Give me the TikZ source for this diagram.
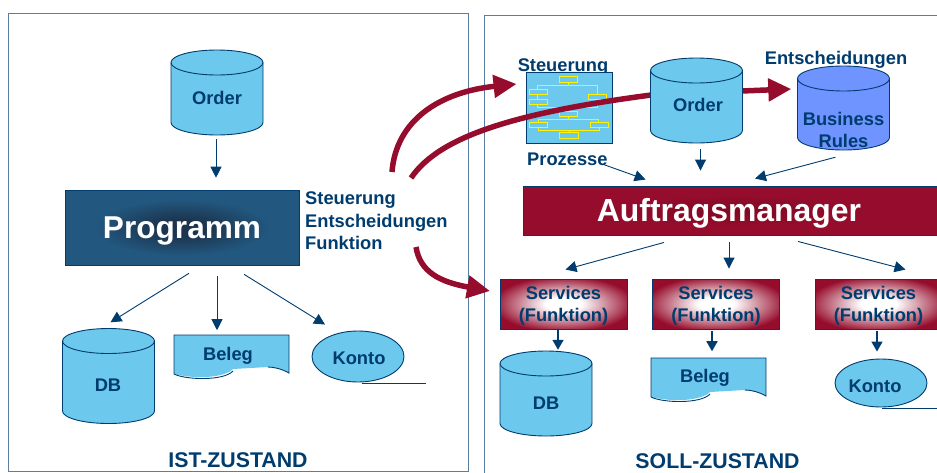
\documentclass[tikz,border=0pt]{standalone}
\usepackage{fontspec}
\setmainfont{Liberation Sans}
\usepackage{xcolor}
\usetikzlibrary{
    positioning,
    arrows.meta,
    calc,
    shapes.geometric
}
\definecolor{printBlue}{RGB}{0, 60, 110}
\definecolor{fillCyan}{RGB}{108, 200, 236}
\definecolor{fillRules}{RGB}{112, 148, 255}
\definecolor{printRed}{RGB}{150, 12, 44}
\definecolor{frameBlue}{RGB}{90, 125, 160}
\definecolor{boxBlue}{RGB}{34, 88, 128}
\definecolor{boxDark}{RGB}{28, 52, 78}
\definecolor{redDark}{RGB}{125, 10, 36}
\pgfdeclareradialshading{progGlow}{\pgfpointorigin}{color(0bp)=(boxDark); color(5bp)=(boxDark); color(19bp)=(boxBlue); color(50bp)=(boxBlue)}
\pgfdeclareradialshading{auftragGlow}{\pgfpointorigin}{color(0bp)=(redDark); color(16bp)=(printRed); color(50bp)=(printRed)}
\pgfdeclareradialshading{serviceGlow}{\pgfpointorigin}{color(0bp)=(white); color(7bp)=(white); color(28bp)=(printRed); color(50bp)=(printRed)}
\tikzset{
    lbl/.style={font=\bfseries\fontsize{18.3}{22.5}\selectfont, text=printBlue, inner sep=0pt, align=center},
    zustand/.style={font=\bfseries\fontsize{21.3}{24}\selectfont, text=printBlue, inner sep=0pt},
    service/.style={draw=printBlue, line width=0.9pt, shading=serviceGlow, minimum width=127pt, minimum height=50pt, inner sep=0pt, label={[lbl, yshift=-2pt]center:Services\\(Funktion)}},
    konto/.style={ellipse, draw=printBlue, line width=0.9pt, fill=fillCyan, minimum width=92pt, inner sep=0pt},
    thinarrow/.style={-{Triangle[length=11pt,width=11pt]}, draw=printBlue, line width=0.9pt},
    midarrow/.style={-{Triangle[length=10pt,width=11pt]}, draw=printBlue, line width=1.6pt},
    redarrow/.style={-{Triangle[length=23pt,width=22pt]}, draw=printRed, line width=5.5pt}
}
% Tonne: Name, x, y, Hoehe, Fuellung
\newcommand{\tonne}[5]{
    \node[minimum width=92pt, minimum height=#4pt, inner sep=0pt] (#1) at (#2,#3) {};
    \begin{scope}[shift={(#2,#3)}]
        \pgfmathsetmacro{\halfh}{#4/2-12.5}
        \filldraw[fill=#5, draw=printBlue, line width=0.9pt] (-46,-\halfh) -- (-46,\halfh) arc (180:0:46 and 12.5) -- (46,-\halfh) arc (360:180:46 and 12.5) -- cycle;
        \draw[printBlue, line width=0.9pt] (-46,-\halfh) arc (180:0:46 and 12.5);
    \end{scope}
}
% Beleg-Form: Welle unten mit weissem Ausschnitt
\newcommand{\belegform}[2]{
    \begin{scope}[shift={(#1,#2)}]
        \fill[fillCyan] (0,0)--(115,0)--(115,38) .. controls (108,34) and (100,32) .. (94,32)--(59,34) .. controls (54,40) and (30,46) .. (0,39)--cycle;
        \draw[printBlue, line width=0.9pt] (94,32) .. controls (100,32) and (108,34) .. (115,38)--(115,0)--(0,0)--(0,39) .. controls (12,45) and (50,46) .. (59,36);
    \end{scope}
}
\begin{document}
\begin{tikzpicture}[x=1pt, y=-1pt]
    \useasboundingbox (0,0) rectangle (937,472);
    % Rahmen
    \draw[frameBlue, line width=0.9pt] (8.5,13) rectangle (468,471);
    \draw[frameBlue, line width=0.9pt] (484,15) rectangle (945,480);

    % IST-ZUSTAND
    \tonne{orderL}{217}{92.5}{85}{fillCyan}
    \node[lbl] (orderLtext) at (217,98) {Order};
    \node[draw=printBlue, line width=0.6pt, shading=progGlow, minimum width=234pt, minimum height=75pt, text=white, text height=22.6pt, text depth=0pt, inner sep=0pt, font=\bfseries\fontsize{31.6}{36}\selectfont] (programm) at (182,227.5) {Programm};
    \node[lbl, align=left, anchor=north west] (aspekte) at (305,192) {Steuerung\\Entscheidungen\\Funktion};
    \tonne{dbL}{108.5}{376}{95}{fillCyan}
    \node[lbl] (dbLtext) at (108,385) {DB};
    \belegform{174}{335}
    \node[lbl] (belegL) at (228,356) {Beleg};
    \node[konto, minimum height=51pt] (kontoL) at (358,356.5) {};
    \node[lbl] (kontoLtext) at (359,358) {Konto};
    \coordinate (kontoLa) at (362,383);
    \coordinate (kontoLb) at (426,383);
    \draw[printBlue, line width=0.9pt] (kontoLa)--(kontoLb);
    \node[zustand] (ist) at (238,460) {IST-ZUSTAND};

    \draw[thinarrow] ([shift={(-1,4)}]orderL.south) -- ([xshift=-1pt,yshift=12pt]orderL.south |- programm.north);
    \draw[thinarrow] ([shift={(7,8)}]programm.south) -- ([shift={(2,-6)}]dbL.north);
    \draw[thinarrow] ([shift={(35,11)}]programm.south) -- ([shift={(-11,-17)}]belegL.north);
    \draw[thinarrow] ([shift={(62,9)}]programm.south) -- ([shift={(-33,-6)}]kontoL.north);

    % SOLL-ZUSTAND
    \node[lbl] (steuerung) at (563,67) {Steuerung};
    \node[draw=printBlue, line width=0.9pt, fill=fillCyan, minimum width=86pt, minimum height=71pt, inner sep=0pt] (ablauf) at (569,107.5) {};
    % kleines Ablaufschema
    \begin{scope}[shift={(480,30)}, x=0.3333pt, y=-0.3333pt, draw=yellow, line width=0.8pt]
        \foreach \xa/\ya/\xb/\yb in {237/140/292/157, 149/177/203/193, 149/207/203/224, 325/193/380/209, 237/244/292/260, 149/277/203/293, 332/277/386/293, 239/308/294/325}
            \draw (\xa,\ya) rectangle (\xb,\yb);
        \draw (265,157)--(265,167);
        \draw (173,177)--(173,167)--(352,167)--(352,193);
        \draw (173,193)--(173,207);
        \draw (173,224)--(173,233)--(352,233)--(352,209);
        \draw (265,233)--(265,244);
        \draw (265,260)--(265,269);
        \draw (175,277)--(175,269)--(355,269)--(355,277);
        \draw (175,293)--(175,300)--(358,300)--(358,293);
        \draw (268,300)--(268,308);
    \end{scope}
    \tonne{rules}{843.5}{108}{84}{fillRules}
    \node[lbl] (rulestext) at (843.5,130) {Business\\Rules};
    \node[lbl] (entscheidungen) at (836,60) {Entscheidungen};
    \node[lbl, anchor=west] (prozesse) at (527,159) {Prozesse};

    % roter Pfeil hinter der Order-Tonne
    \coordinate (startOrder) at (411,178);
    \coordinate (orderIn) at (655,94.5);
    \draw[redarrow] (startOrder) .. controls (440,135) and (520,112) .. (orderIn) -- ([shift={(-6,-19)}]rules.west);
    \tonne{orderR}{696.5}{100.5}{85}{fillCyan}
    \node[lbl] (orderRtext) at (698,105) {Order};

    \coordinate (startSteuerung) at (392,172);
    \draw[redarrow] (startSteuerung) .. controls (396,120) and (440,92) .. ([shift={(-9,-23.5)}]ablauf.west);
    \coordinate (startService) at (416,247);
    \coordinate (endService) at (490,291);
    \draw[redarrow] (startService) .. controls (420,272) and (440,282) .. (endService);

    \node[draw=printBlue, line width=0.9pt, shading=auftragGlow, minimum width=424pt, minimum height=49pt, inner sep=0pt] (auftrag) at (735,210.5) {};
    \node[text=white, inner sep=0pt, text height=22.8pt, text depth=0pt, font=\bfseries\fontsize{31.9}{36}\selectfont] (auftragtext) at (729,210) {Auftragsmanager};

    \node[service] (servA) at (563.5,304) {};
    \node[service] (servB) at (716,304) {};
    \node[service] (servC) at (878.5,304) {};

    \tonne{dbR}{546}{393.5}{85}{fillCyan}
    \node[lbl] (dbRtext) at (546,403) {DB};
    \belegform{651}{358}
    \node[lbl] (belegR) at (705,378) {Beleg};
    \node[konto, minimum height=48pt] (kontoR) at (881,383) {};
    \node[lbl] (kontoRtext) at (875,386) {Konto};
    \coordinate (kontoRa) at (882,408);
    \coordinate (kontoRb) at (937,408);
    \draw[printBlue, line width=0.9pt] (kontoRa)--(kontoRb);
    \node[zustand] (soll) at (717.5,461.5) {SOLL-ZUSTAND};

    \draw[thinarrow] ([shift={(-4,-1)}]prozesse.south east) -- ([shift={(123,-6)}]auftrag.north west);
    \draw[thinarrow] ([shift={(4,6)}]orderR.south) -- ([shift={(4,-15)}]auftrag.north -| orderR.south);
    \draw[thinarrow] ([shift={(-8,7)}]rules.south) -- ([shift={(20,-7)}]auftrag.north);
    \draw[thinarrow] ([shift={(-71,7)}]auftrag.south) -- ([shift={(2,-9)}]servA.north);
    \draw[thinarrow] ([shift={(-6,7)}]auftrag.south) -- ([shift={(13,-10)}]servB.north);
    \draw[thinarrow] ([shift={(63,6)}]auftrag.south) -- ([shift={(27,-9)}]servC.north);
    \draw[midarrow] ([shift={(-5.5,0)}]servA.south) -- ([shift={(12,-1)}]dbR.north);
    \draw[midarrow] ([shift={(-4,2)}]servB.south) -- ([shift={(7,-18)}]belegR.north);
    \draw[midarrow] ([shift={(-1.5,2)}]servC.south) -- ([shift={(-4,-7)}]kontoR.north);
\end{tikzpicture}
\end{document}
